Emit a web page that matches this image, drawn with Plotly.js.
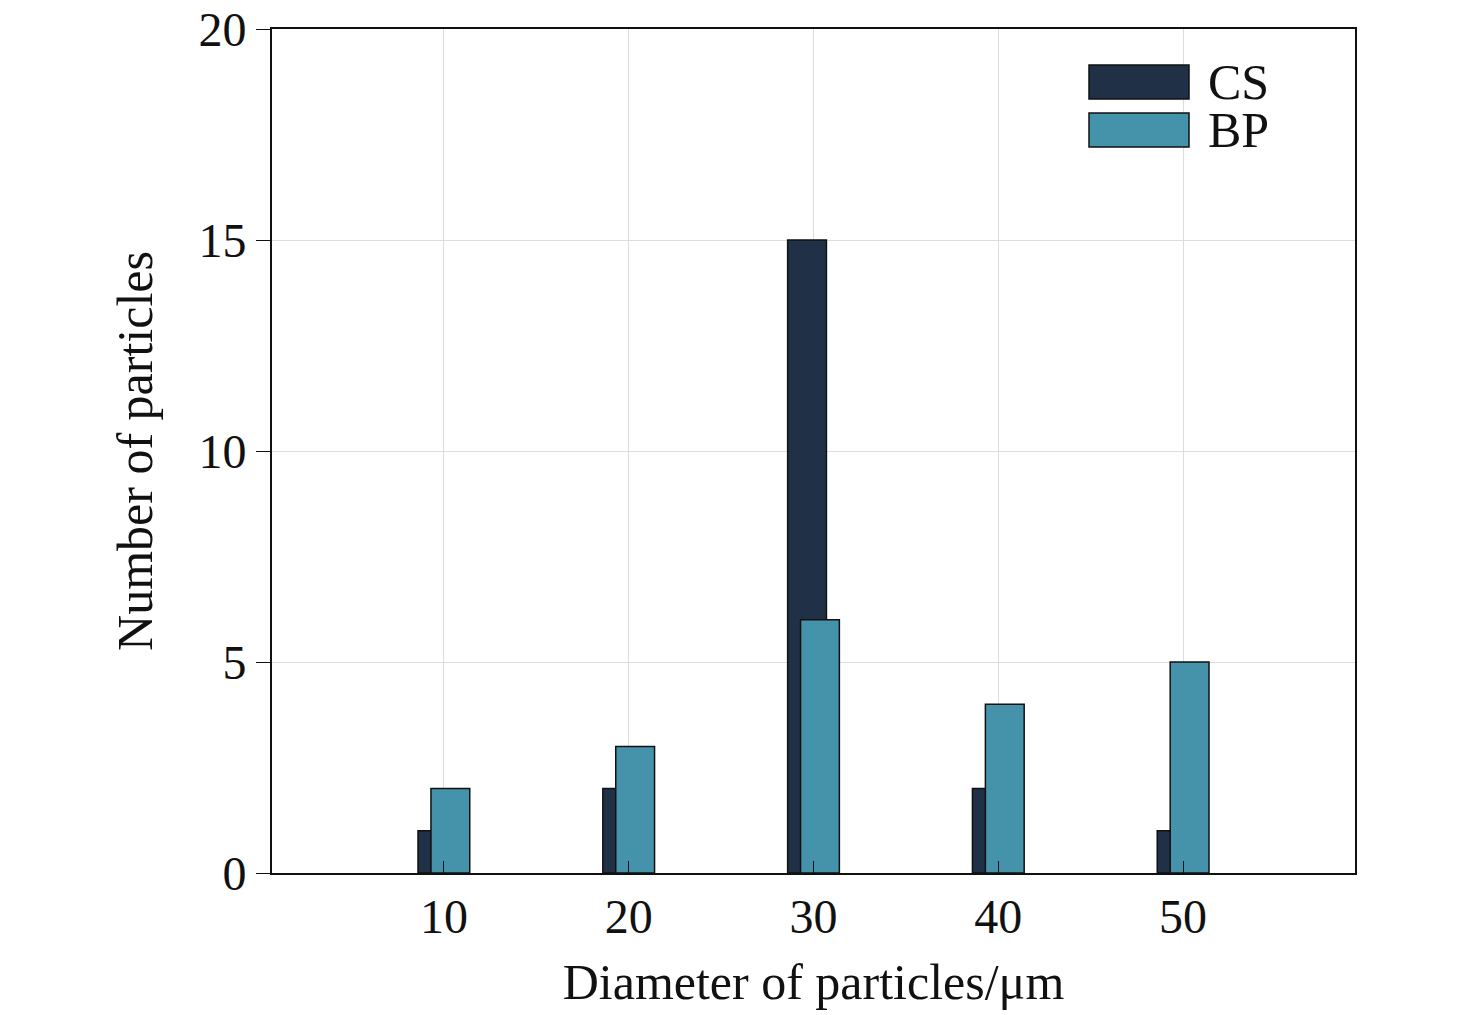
<!DOCTYPE html>
<html><head><script src="https://cdn.plot.ly/plotly-3.0.1.min.js"></script></head>
<body style="margin:0"><div id="c" style="width:1476px;height:1015px"></div>
<script>
const diameters=[10,20,30,40,50];
const csValues=[1,2,15,2,1];
const bpValues=[2,3,6,4,5];
const seriesNames=['CS','BP'];
const colors=['#1f3047','#4592ab'];
const line={color:'#111',width:1.5};
const data=[
{type:'bar',name:seriesNames[0],x:diameters,y:csValues,offset:-1.4,width:2.1,marker:{color:colors[0],line}},
{type:'bar',name:seriesNames[1],x:diameters,y:bpValues,offset:-0.7,width:2.1,marker:{color:colors[1],line}}
];
const fam="'Liberation Serif','Times New Roman',Times,serif";
const W=1476,H=1015;
const shapes=[],annotations=[];
[[65,99],[113,147]].forEach((r,i)=>{
 shapes.push({type:'rect',xref:'paper',yref:'paper',x0:(1089-272)/1083,x1:(1189-272)/1083,y0:(873-r[1])/844,y1:(873-r[0])/844,fillcolor:colors[i],line:{color:'#111',width:1.5},layer:'above'});
 shapes.push({type:'rect',xref:'paper',yref:'paper',x0:(1080-272)/1083,x1:(1290-272)/1083,y0:(873-r[1]-8)/844,y1:(873-r[0]+8)/844,fillcolor:'white',line:{width:0},layer:'below'});
 annotations.push({xref:'paper',yref:'paper',x:(1206-272)/1083,y:(873-(r[0]+r[1])/2)/844,xanchor:'left',yanchor:'middle',text:seriesNames[i],showarrow:false,font:{family:fam,size:50,color:'#111'}});
});
const layout={
 barmode:'overlay',paper_bgcolor:'white',plot_bgcolor:'white',showlegend:false,
 margin:{l:272,r:121,t:29,b:142},font:{family:fam,size:48,color:'#111'},shapes,annotations,
 xaxis:{range:[0.7,59.3],tickvals:diameters,ticks:'inside',ticklen:12,tickcolor:'#111',gridcolor:'#ddd',
  showline:true,mirror:true,linecolor:'#111',linewidth:2,zeroline:false,
  title:{text:'Diameter of particles/μm',font:{family:fam,size:50},standoff:22}},
 yaxis:{range:[0,20],dtick:5,ticks:'outside',ticklen:14,tickcolor:'#111',gridcolor:'#ddd',
  showline:true,mirror:true,linecolor:'#111',linewidth:2,zeroline:false,
  title:{text:'Number of particles',font:{family:fam,size:50},standoff:30}}
};
Plotly.newPlot('c',data,layout,{displayModeBar:false});
</script></body></html>
